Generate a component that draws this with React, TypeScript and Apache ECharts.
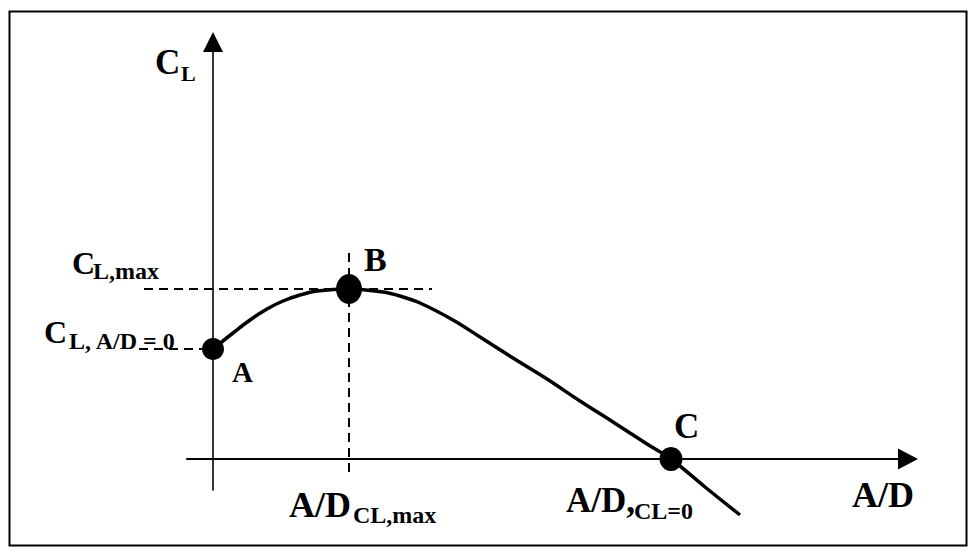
import { useEffect, useRef } from "react";
import * as echarts from "echarts";

// Lift coefficient C_L plotted against A/D (schematic units)
const adValues = [0, 0.2, 0.37, 0.54, 0.7, 0.87, 1.04, 1.36, 1.7, 1.87, 2.07, 2.4, 2.67, 3.0, 3.34, 3.67, 4.0, 4.34, 4.58, 4.92, 5.27];
const clValues = [1.1, 1.26, 1.39, 1.5, 1.58, 1.64, 1.68, 1.7, 1.67, 1.63, 1.56, 1.39, 1.22, 1.01, 0.8, 0.58, 0.37, 0.15, 0, -0.28, -0.56];

// Characteristic points: A (A/D = 0), B (C_L,max), C (C_L = 0)
const pointNames = ["A", "B", "C"];
const pointAD = [0, 1.36, 4.58];
const pointCL = [1.1, 1.7, 0];

// Dashed guides
const clMaxGuideAD = [-0.69, 2.19];
const adAtMaxGuideCL = [2.06, -0.17];
const clAtZeroGuideAD = [-0.74, 0];

// Axis extents
const adRange = [-0.26, 6.95];
const clRange = [-0.31, 4.17];

const SERIF = '"Liberation Serif", "Times New Roman", serif';

function label(text: string, x: number, y: number, size: number) {
  return {
    type: "text",
    x,
    y,
    z: 10,
    style: {
      text,
      fill: "#000",
      font: `bold ${size}px ${SERIF}`,
      align: "left",
      verticalAlign: "middle",
    },
  };
}

export default function App() {
  const ref = useRef<HTMLDivElement>(null);

  useEffect(() => {
    if (!ref.current) return;
    const chart = echarts.init(ref.current, null, { renderer: "svg" });

    const dotSize: Record<string, number[]> = { A: [22, 22], B: [26, 30], C: [23, 24] };

    chart.setOption({
      animation: false,
      backgroundColor: "#fff",
      grid: { left: 187, right: 68, top: 42, bottom: 64, containLabel: false },
      xAxis: {
        type: "value",
        min: adRange[0],
        max: adRange[1],
        axisLine: {
          onZero: true,
          symbol: ["none", "triangle"],
          symbolSize: [21, 20],
          lineStyle: { color: "#000", width: 2 },
        },
        axisTick: { show: false },
        axisLabel: { show: false },
        splitLine: { show: false },
      },
      yAxis: {
        type: "value",
        min: clRange[0],
        max: clRange[1],
        axisLine: {
          onZero: true,
          symbol: ["none", "triangle"],
          symbolSize: [20, 20],
          lineStyle: { color: "#000", width: 1.6 },
        },
        axisTick: { show: false },
        axisLabel: { show: false },
        splitLine: { show: false },
      },
      series: [
        {
          name: "C_L",
          type: "line",
          clip: false,
          showSymbol: false,
          smooth: 0.35,
          lineStyle: { color: "#000", width: 3.5, cap: "butt" },
          data: adValues.map((x, i) => [x, clValues[i]]),
          z: 3,
        },
        {
          name: "points",
          type: "scatter",
          clip: false,
          symbol: "circle",
          itemStyle: { color: "#000", opacity: 1 },
          z: 4,
          data: pointNames.map((n, i) => ({
            name: n,
            value: [pointAD[i], pointCL[i]],
            symbolSize: dotSize[n],
          })),
        },
      ],
    });

    // Dashed guides are placed through the grid's own data-to-pixel mapping
    const toPx = (x: number, y: number) =>
      chart.convertToPixel({ gridIndex: 0 }, [x, y]) as number[];
    const guide = (a: number[], b: number[]) => {
      const p = toPx(a[0], a[1]);
      const q = toPx(b[0], b[1]);
      return {
        type: "line",
        z: 1,
        silent: true,
        shape: { x1: p[0], y1: p[1], x2: q[0], y2: q[1] },
        style: { stroke: "#000", lineWidth: 2, lineDash: [9, 6], fill: "none" },
      };
    };

    chart.setOption({
      graphic: [
        {
          type: "rect",
          z: 0,
          shape: { x: 9.5, y: 11.5, width: 957, height: 534 },
          style: { fill: "none", stroke: "#000", lineWidth: 2 },
        },
        guide([clMaxGuideAD[0], pointCL[1]], [clMaxGuideAD[1], pointCL[1]]),
        guide([pointAD[1], adAtMaxGuideCL[0]], [pointAD[1], adAtMaxGuideCL[1]]),
        guide([clAtZeroGuideAD[0], pointCL[0]], [clAtZeroGuideAD[1], pointCL[0]]),
        // y-axis title C_L
        label("C", 155, 62, 35),
        label("L", 181, 73, 22),
        // C_L,max
        label("C", 72, 263, 32),
        label("L,max", 93, 271, 24),
        // C_L, A/D = 0
        label("C", 44, 332, 32),
        label("L, A/D = 0", 69, 341, 24),
        // point names
        label(pointNames[0], 232, 372, 29),
        label(pointNames[1], 364, 259, 34),
        label(pointNames[2], 674, 426, 35),
        // A/D at C_L,max
        label("A/D", 289, 505, 36),
        label("CL,max", 353, 515, 24),
        // A/D at C_L = 0
        label("A/D,", 566, 500, 35),
        label("CL=0", 634, 511, 24),
        // x-axis title
        label("A/D", 852, 495, 36),
      ],
    });

    return () => chart.dispose();
  }, []);

  return (
    <div
      ref={ref}
      style={{ position: "fixed", left: 0, top: 0, width: 976, height: 554, background: "#fff" }}
    />
  );
}
